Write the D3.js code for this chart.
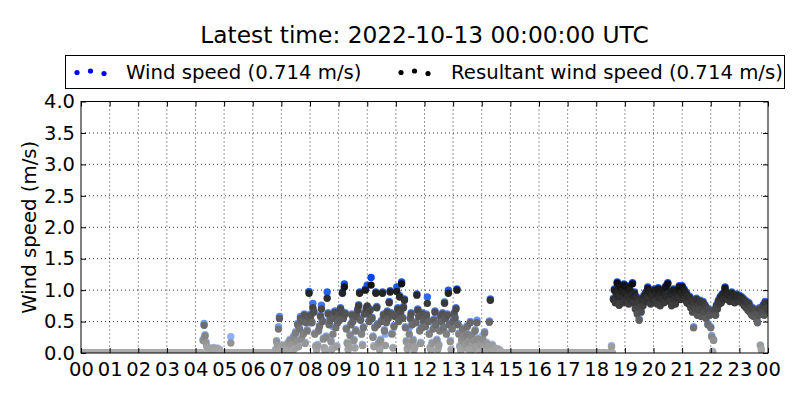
<!DOCTYPE html>
<html>
<head>
<meta charset="utf-8">
<script src="https://cdn.jsdelivr.net/npm/d3@7"></script>
<style>
  html, body { margin: 0; padding: 0; background: #fff; }
  svg { display: block; font-family: "DejaVu Sans", sans-serif; }
</style>
</head>
<body>
<svg id="chart" width="800" height="400"></svg>
<script>
// ---- data ----
const titleText = "Latest time: 2022-10-13 00:00:00 UTC";
const yLabel = "Wind speed (m/s)";
const seriesNames = ["Wind speed (0.714 m/s)", "Resultant wind speed (0.714 m/s)"];
const xTickLabels = ["00","01","02","03","04","05","06","07","08","09","10","11","12","13","14","15","16","17","18","19","20","21","22","23","00"];
const yTicks = [0, 0.5, 1.0, 1.5, 2.0, 2.5, 3.0, 3.5, 4.0];
const sampleMinutes = 2; // one sample every 2 minutes from 2022-10-12 00:00 UTC (30 per hour)

// resultant wind speed (m/s)
const resultant = [
  // 00
  0,0,0,0,0,0,0,0,0,0,0,0,0,0,0,0,0,0,0,0,0,0,0,0,0,0,0,0,0,0,
  // 01
  0,0,0,0,0,0,0,0,0,0,0,0,0,0,0,0,0,0,0,0,0,0,0,0,0,0,0,0,0,0,
  // 02
  0,0,0,0,0,0,0,0,0,0,0,0,0,0,0,0,0,0,0,0,0,0,0,0,0,0,0,0,0,0,
  // 03
  0,0,0,0,0,0,0,0,0,0,0,0,0,0,0,0,0,0,0,0,0,0,0,0,0,0,0,0,0,0,
  // 04
  0,0,0,0,0,0,0,0,0.2,0.44,0.27,0.16,0.1,0.08,0.04,0.06,0.03,0.07,0.05,0.08,0.04,0.06,0.05,0.07,0.03,0.05,0,0,0,0,
  // 05
  0,0,0,0,0,0,0,0.16,0,0,0,0,0,0,0,0,0,0,0,0,0,0,0,0,0,0,0,0,0,0,
  // 06
  0,0,0,0,0,0,0,0,0,0,0,0,0,0,0,0,0,0,0,0,0,0,0,0,0.05,0.18,0.12,0.38,0.55,0.08,
  // 07
  0.08,0.03,0.12,0.05,0.02,0.1,0.06,0.15,0.04,0.2,0.09,0.13,0.03,0.25,0.07,
  0.32,0.18,0.45,0.1,0.38,0.55,0.22,0.5,0.3,0.6,0.15,0.48,0.35,0.58,0.95,
  // 08
  0.55,0.6,0.48,0.72,0.65,0.3,0.1,0.05,0.12,0.35,0.42,0.58,0.7,0.5,0.22,
  0.08,0.03,0.25,0.87,0.62,0.45,0.52,0.18,0.06,0.3,0.55,0.65,0.4,0.1,0.48,
  // 09
  0.6,0.52,0.7,0.65,0.95,0.55,1.05,0.62,0.38,0.15,0.05,0.1,0.28,0.45,0.6,
  0.5,0.2,0.08,0.35,0.58,0.68,0.75,0.95,0.52,0.3,0.12,0.4,0.62,1.0,0.7,
  // 10
  0.75,0.62,0.5,0.68,1.08,0.55,0.25,0.1,0.4,0.95,0.72,0.45,0.15,0.05,0.2,
  0.5,0.95,0.6,0.35,0.12,0.48,0.65,0.55,0.8,0.97,0.62,0.3,0.08,0.42,0.58,
  // 11
  0.6,0.98,0.7,0.5,0.89,0.65,1.1,0.55,0.72,0.84,0.4,0.18,0.06,0.12,0.3,
  0.55,0.62,0.45,0.2,0.05,0.1,0.48,0.92,0.68,0.58,0.35,0.15,0.4,0.62,0.5,
  // 12
  0.55,0.42,0.6,0.79,0.5,0.3,0.08,0.04,0.15,0.38,0.52,0.65,0.45,0.2,0.06,
  0.12,0.35,0.58,0.5,0.62,0.4,0.79,0.55,0.3,0.6,0.95,0.45,0.18,0.05,0.38,
  // 13
  0.5,0.62,0.55,0.7,1.0,0.45,0.3,0.1,0.04,0.2,0.38,0.25,0.08,0.15,0.3,
  0.42,0.18,0.05,0.48,0.28,0.12,0.06,0.2,0.35,0.1,0.48,0.22,0.08,0.03,0.15,
  // 14
  0.12,0.22,0.08,0.32,0.05,0.15,0.03,0.1,0.49,0.84,0.06,0.12,0.04,0.08,0.02,
  0.05,0.03,0.06,0.02,0.04,0,0,0,0,0,0,0,0,0,0,
  // 15
  0,0,0,0,0,0,0,0,0,0,0,0,0,0,0,0,0,0,0,0,0,0,0,0,0,0,0,0,0,0,
  // 16
  0,0,0,0,0,0,0,0,0,0,0,0,0,0,0,0,0,0,0,0,0,0,0,0,0,0,0,0,0,0,
  // 17
  0,0,0,0,0,0,0,0,0,0,0,0,0,0,0,0,0,0,0,0,0,0,0,0,0,0,0,0,0,0,
  // 18
  0,0,0,0,0,0,0,0,0,0,0,0,0,0,0,0,0.1,0,0.85,1.0,0.8,0.95,1.11,0.9,0.76,1.05,0.88,0.98,0.8,1.08,
  // 19
  0.95,0.82,1.05,0.9,0.78,1.0,0.85,0.92,1.1,0.8,0.95,0.7,0.88,0.62,0.8,
  0.52,0.72,0.65,0.85,0.75,0.9,0.82,0.95,0.88,1.03,0.85,0.98,0.78,0.92,0.85,
  // 20
  0.9,1.0,0.82,0.95,0.78,1.02,0.88,0.75,0.95,0.85,1.0,0.8,0.92,1.05,0.88,
  1.1,0.9,0.82,0.97,0.75,0.92,1.0,0.85,0.78,0.95,0.88,1.0,1.05,0.85,0.95,
  // 21
  1.05,0.92,1.0,0.85,0.95,0.8,0.9,0.78,0.88,0.72,0.82,0.65,0.4,0.78,0.7,
  0.85,0.6,0.75,0.68,0.82,0.58,0.72,0.8,0.65,0.75,0.55,0.7,0.45,0.68,0.6,
  // 22
  0.4,0.26,0.02,0.2,0.68,0.6,0.75,0.7,0.82,0.78,0.88,0.8,0.92,0.85,0.95,
  1.03,0.88,0.95,0.85,0.92,0.82,0.9,0.95,0.85,0.9,0.8,0.88,0.92,0.82,0.88,
  // 23
  0.9,0.82,0.88,0.8,0.85,0.75,0.82,0.72,0.8,0.68,0.78,0.65,0.72,0.6,0.7,
  0.58,0.68,0.62,0.55,0.48,0.6,0.7,0.12,0.05,0.65,0.75,0.6,0.8,0.68,0.72,
  // 00 (next day)
  0.714
];

// wind speed (m/s), same sampling
const windSpeed = [
  // 00
  0,0,0,0,0,0,0,0,0,0,0,0,0,0,0,0,0,0,0,0,0,0,0,0,0,0,0,0,0,0,
  // 01
  0,0,0,0,0,0,0,0,0,0,0,0,0,0,0,0,0,0,0,0,0,0,0,0,0,0,0,0,0,0,
  // 02
  0,0,0,0,0,0,0,0,0,0,0,0,0,0,0,0,0,0,0,0,0,0,0,0,0,0,0,0,0,0,
  // 03
  0,0,0,0,0,0,0,0,0,0,0,0,0,0,0,0,0,0,0,0,0,0,0,0,0,0,0,0,0,0,
  // 04
  0,0,0,0,0,0,0,0,0.22,0.47,0.29,0.18,0.11,0.09,0.05,0.07,0.04,0.08,0.06,0.09,0.05,0.07,0.06,0.08,0.04,0.06,0,0,0,0,
  // 05
  0,0,0,0,0,0,0,0.26,0,0,0,0,0,0,0,0,0,0,0,0,0,0,0,0,0,0,0,0,0,0,
  // 06
  0,0,0,0,0,0,0,0,0,0,0,0,0,0,0,0,0,0,0,0,0,0,0,0,0.06,0.2,0.14,0.42,0.58,0.09,
  // 07
  0.09,0.04,0.13,0.06,0.03,0.11,0.07,0.17,0.05,0.22,0.1,0.15,0.04,0.28,0.08,
  0.34,0.2,0.47,0.12,0.4,0.58,0.24,0.52,0.32,0.62,0.17,0.5,0.37,0.6,0.98,
  // 08
  0.57,0.62,0.5,0.79,0.67,0.32,0.12,0.06,0.14,0.37,0.44,0.6,0.76,0.52,0.24,
  0.09,0.04,0.27,0.97,0.64,0.47,0.54,0.2,0.07,0.42,0.57,0.67,0.42,0.12,0.5,
  // 09
  0.62,0.54,0.72,0.67,0.97,0.57,1.1,0.64,0.4,0.17,0.06,0.12,0.3,0.47,0.62,
  0.52,0.22,0.09,0.37,0.6,0.7,0.77,0.97,0.54,0.32,0.14,0.42,0.64,1.02,0.72,
  // 10
  1.08,0.64,0.52,0.7,1.2,0.57,0.27,0.12,0.42,0.97,0.74,0.47,0.17,0.06,0.22,
  0.52,0.97,0.62,0.37,0.3,0.5,0.67,0.57,0.82,0.99,0.64,0.32,0.09,0.44,0.6,
  // 11
  0.62,1.05,0.72,0.52,0.91,0.67,1.13,0.57,0.74,0.86,0.42,0.2,0.07,0.14,0.4,
  0.57,0.64,0.47,0.22,0.06,0.12,0.5,0.94,0.7,0.6,0.37,0.17,0.42,0.64,0.52,
  // 12
  0.57,0.44,0.62,0.89,0.52,0.32,0.1,0.05,0.17,0.48,0.54,0.67,0.47,0.22,0.07,
  0.14,0.37,0.6,0.52,0.64,0.42,0.81,0.57,0.32,0.62,1.0,0.47,0.2,0.06,0.4,
  // 13
  0.52,0.64,0.57,0.72,1.02,0.47,0.32,0.12,0.05,0.22,0.4,0.27,0.1,0.17,0.32,
  0.44,0.2,0.06,0.5,0.3,0.28,0.07,0.22,0.37,0.12,0.52,0.24,0.1,0.04,0.17,
  // 14
  0.14,0.28,0.1,0.34,0.06,0.17,0.04,0.12,0.51,0.86,0.07,0.14,0.05,0.09,0.03,
  0.06,0.04,0.07,0.03,0.05,0,0,0,0,0,0,0,0,0,0,
  // 15
  0,0,0,0,0,0,0,0,0,0,0,0,0,0,0,0,0,0,0,0,0,0,0,0,0,0,0,0,0,0,
  // 16
  0,0,0,0,0,0,0,0,0,0,0,0,0,0,0,0,0,0,0,0,0,0,0,0,0,0,0,0,0,0,
  // 17
  0,0,0,0,0,0,0,0,0,0,0,0,0,0,0,0,0,0,0,0,0,0,0,0,0,0,0,0,0,0,
  // 18
  0,0,0,0,0,0,0,0,0,0,0,0,0,0,0,0,0.12,0,0.87,1.02,0.82,0.97,1.13,0.92,0.78,1.07,0.9,1.0,0.82,1.1,
  // 19
  0.97,0.84,1.07,0.92,0.8,1.02,0.87,0.94,1.12,0.82,0.97,0.72,0.9,0.64,0.82,
  0.54,0.74,0.67,0.87,0.77,0.92,0.84,0.97,0.9,1.05,0.87,1.0,0.8,0.94,0.87,
  // 20
  0.92,1.02,0.84,0.97,0.8,1.04,0.9,0.77,0.97,0.87,1.02,0.82,0.94,1.07,0.9,
  1.12,0.92,0.84,0.99,0.77,0.94,1.02,0.87,0.8,0.97,0.9,1.02,1.07,0.87,0.97,
  // 21
  1.07,0.94,1.02,0.87,0.97,0.82,0.92,0.8,0.9,0.74,0.84,0.67,0.42,0.8,0.72,
  0.87,0.62,0.77,0.7,0.84,0.6,0.74,0.82,0.67,0.77,0.57,0.72,0.47,0.7,0.62,
  // 22
  0.42,0.28,0.03,0.22,0.7,0.62,0.77,0.72,0.84,0.8,0.9,0.82,0.94,0.87,0.97,
  1.05,0.9,0.97,0.87,0.94,0.84,0.92,0.97,0.87,0.92,0.82,0.9,0.94,0.84,0.9,
  // 23
  0.92,0.84,0.9,0.82,0.87,0.77,0.84,0.74,0.82,0.7,0.8,0.67,0.74,0.62,0.72,
  0.6,0.7,0.64,0.57,0.5,0.62,0.72,0.13,0.06,0.67,0.77,0.62,0.82,0.7,0.74,
  // 00 (next day)
  0.714
];

// ---- layout ----
const svg = d3.select("#chart");
const plot = { left: 81, right: 768, top: 101.5, bottom: 353 };

const x = d3.scaleLinear().domain([0, 24]).range([plot.left, plot.right]);
const y = d3.scaleLinear().domain([0, 4]).range([plot.bottom, plot.top]);

const greyScale = d3.scaleLinear().domain([0, 1.2]).range(["#ababab", "#000000"]).clamp(true);
const blueScale = d3.scaleLinear().domain([0, 1.2]).range(["#b0ccff", "#0046f0"]).clamp(true);

const hours = i => i * sampleMinutes / 60;

// clip
svg.append("defs").append("clipPath").attr("id", "clip")
  .append("rect").attr("x", plot.left).attr("y", plot.top)
  .attr("width", plot.right - plot.left).attr("height", plot.bottom - plot.top);

// grid
const grid = svg.append("g");
grid.selectAll("line.gx").data(d3.range(1, 24)).enter().append("line")
  .attr("x1", d => x(d)).attr("x2", d => x(d))
  .attr("y1", plot.top).attr("y2", plot.bottom)
  .attr("stroke", "#000").attr("stroke-width", 0.8).attr("stroke-dasharray", "1,3");
grid.selectAll("line.gy").data(yTicks.slice(1, -1)).enter().append("line")
  .attr("y1", d => y(d)).attr("y2", d => y(d))
  .attr("x1", plot.left).attr("x2", plot.right)
  .attr("stroke", "#000").attr("stroke-width", 0.8).attr("stroke-dasharray", "1,3");

// points
const pts = svg.append("g").attr("clip-path", "url(#clip)");
pts.append("g").selectAll("circle").data(windSpeed).enter().append("circle")
  .attr("cx", (d, i) => x(hours(i))).attr("cy", d => y(d)).attr("r", 3.7)
  .attr("fill", d => blueScale(d));
pts.append("g").selectAll("circle").data(resultant).enter().append("circle")
  .attr("cx", (d, i) => x(hours(i))).attr("cy", d => y(d)).attr("r", 3.7)
  .attr("fill", d => greyScale(d));

// axes
const tickFont = 19.5;
const xAxis = d3.axisBottom(x).tickValues(d3.range(0, 25)).tickFormat((d, i) => xTickLabels[i]).tickSizeInner(-5).tickSizeOuter(0).tickPadding(9);
const gx = svg.append("g").attr("transform", `translate(0,${plot.bottom})`).call(xAxis);
gx.select(".domain").remove();
gx.selectAll("text").attr("font-size", tickFont).attr("font-family", "DejaVu Sans").attr("fill", "#000");
gx.selectAll("line").attr("stroke", "#000");

const gxTop = svg.append("g").attr("transform", `translate(0,${plot.top})`)
  .call(d3.axisTop(x).tickValues(d3.range(0, 25)).tickFormat("").tickSizeInner(-5).tickSizeOuter(0));
gxTop.select(".domain").remove();

const yAxis = d3.axisLeft(y).tickValues(yTicks).tickFormat(d3.format(".1f")).tickSizeInner(-5).tickSizeOuter(0).tickPadding(6);
const gy = svg.append("g").attr("transform", `translate(${plot.left},0)`).call(yAxis);
gy.select(".domain").remove();
gy.selectAll("text").attr("font-size", tickFont).attr("font-family", "DejaVu Sans").attr("fill", "#000");

const gyR = svg.append("g").attr("transform", `translate(${plot.right},0)`)
  .call(d3.axisRight(y).tickValues(yTicks).tickFormat("").tickSizeInner(-5).tickSizeOuter(0));
gyR.select(".domain").remove();

// frame
svg.append("rect").attr("x", plot.left).attr("y", plot.top)
  .attr("width", plot.right - plot.left).attr("height", plot.bottom - plot.top)
  .attr("fill", "none").attr("stroke", "#000").attr("stroke-width", 1);

// y label
svg.append("text").attr("transform", `translate(36,${(plot.top + plot.bottom) / 2}) rotate(-90)`)
  .attr("text-anchor", "middle").attr("font-size", 19.7).text(yLabel);

// title
svg.append("text").attr("x", 424.5).attr("y", 43).attr("text-anchor", "middle")
  .attr("font-size", 23.3).text(titleText);

// legend
const lg = svg.append("g");
lg.append("rect").attr("x", 65.5).attr("y", 55.5).attr("width", 719).attr("height", 33)
  .attr("fill", "#fff").attr("stroke", "#000").attr("stroke-width", 1);
const legendItems = [
  { name: seriesNames[0], color: "#0000ff", dx: 77, tx: 126 },
  { name: seriesNames[1], color: "#000000", dx: 401, tx: 451 }
];
const dotOffsets = [[0, 72.5], [13.5, 71], [27, 73.5]];
legendItems.forEach(it => {
  dotOffsets.forEach(o => {
    lg.append("circle").attr("cx", it.dx + o[0]).attr("cy", o[1]).attr("r", 2.6).attr("fill", it.color);
  });
  lg.append("text").attr("x", it.tx).attr("y", 79).attr("font-size", 19.7).text(it.name);
});
</script>
</body>
</html>
